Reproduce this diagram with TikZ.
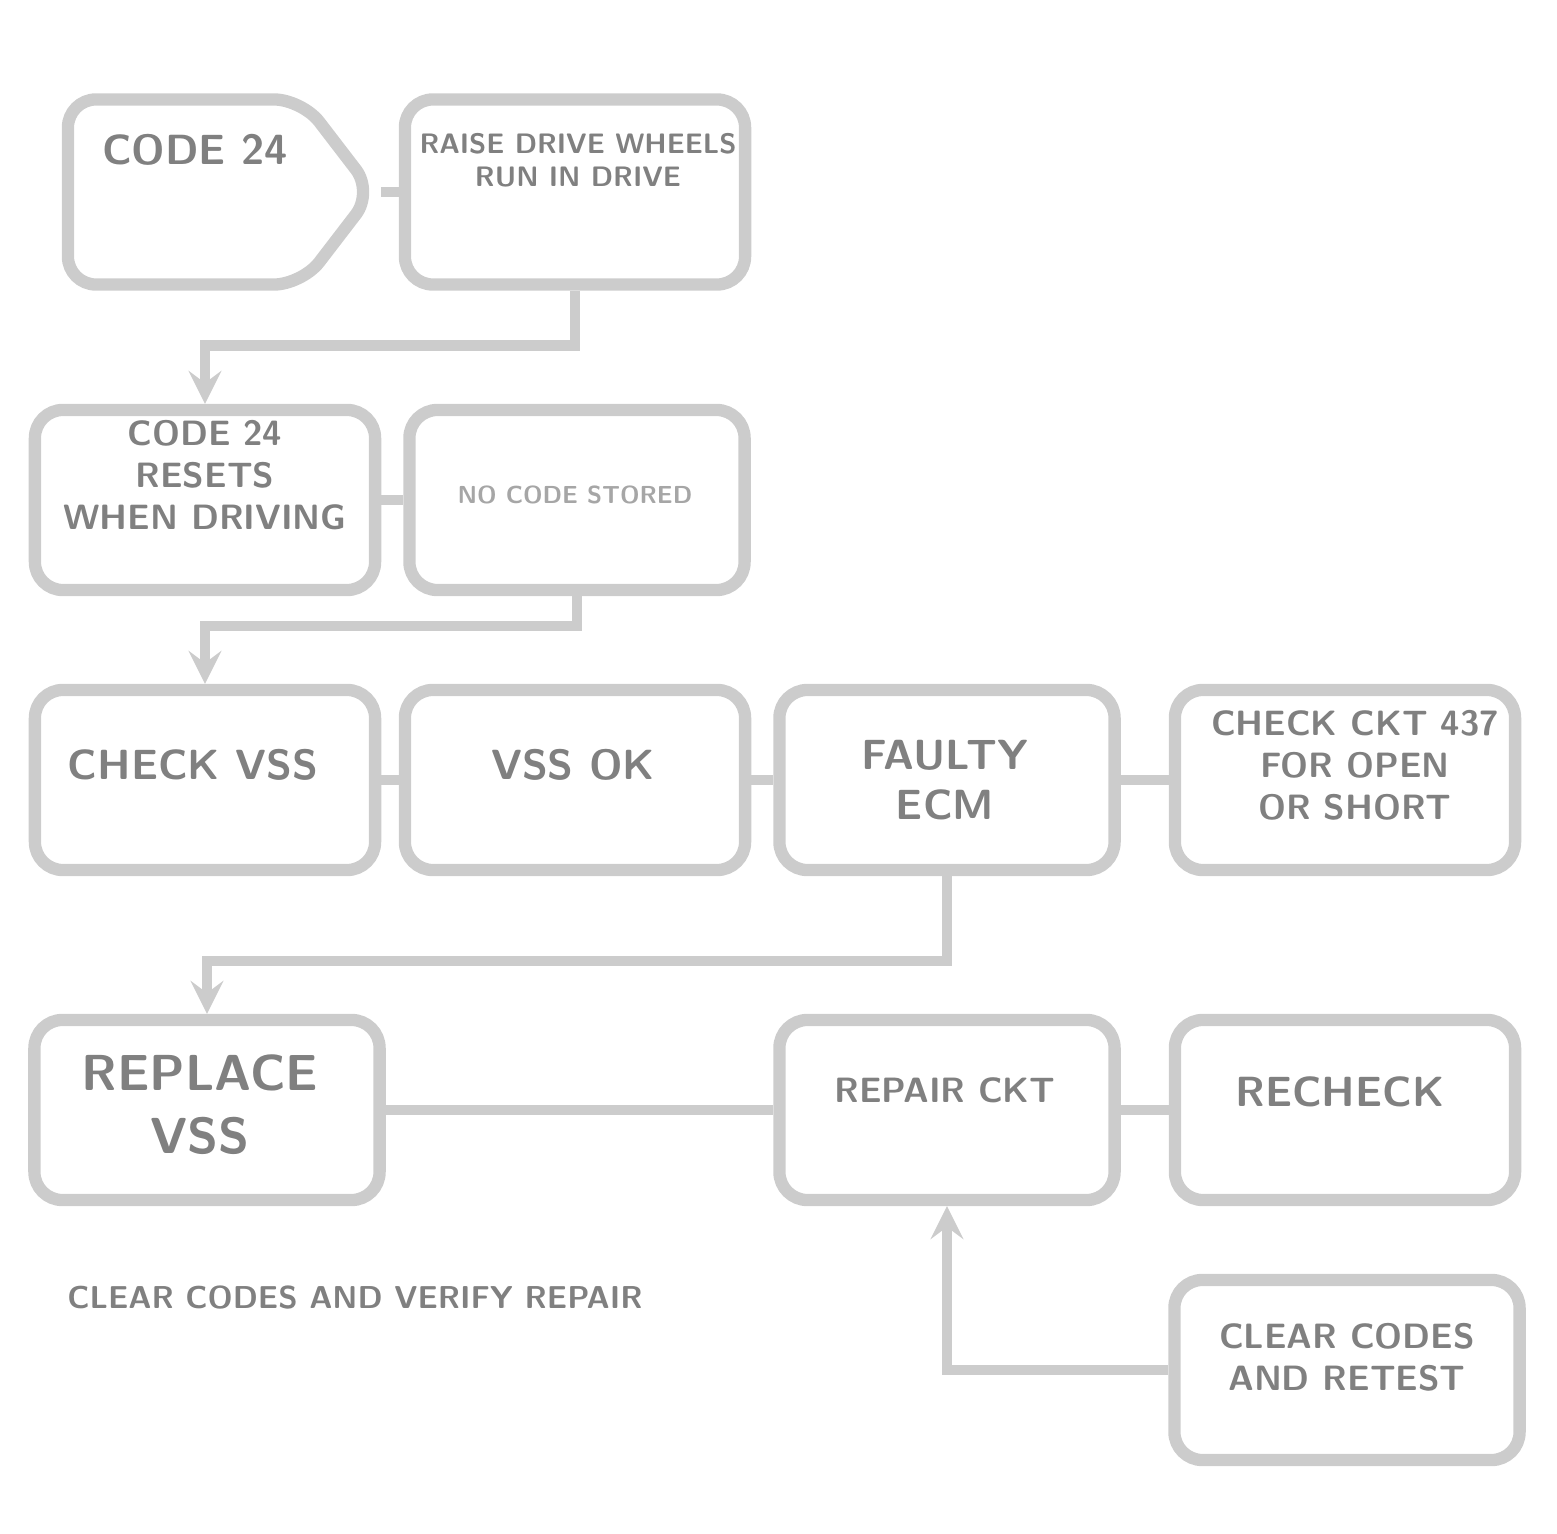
\documentclass[tikz,border=0pt]{standalone}
\usepackage{amsmath}
\usepackage{tikz}
\usetikzlibrary{shapes.symbols}

\tikzset{
	box/.style={draw=black!20, line width=3.5pt, rounded corners=8pt,
		minimum width=3.4cm, minimum height=1.8cm, inner sep=0pt},
	txt/.style={text=black!50, font=\sffamily\bfseries\large, align=center},
	link/.style={draw=black!20, line width=3pt},
}

\begin{document}
\begin{tikzpicture}[x=0.01cm,y=-0.01cm]
	\useasboundingbox (0,0) rectangle (1557,1534);
	% first row
	\node[box, shape=signal, signal to=east, signal pointer angle=105,
		minimum width=3.05cm, minimum height=1.85cm] (a) at (185,192) {};
	\node[box, minimum height=1.85cm] (b) at (575,192) {};
	% second row
	\node[box] (c) at (205,500) {};
	\node[box, minimum width=3.35cm] (d) at (577,500) {};
	% third row
	\node[box] (e) at (205,780) {};
	\node[box] (f) at (575,780) {};
	\node[box, minimum width=3.35cm] (g) at (947,780) {};
	\node[box] (h) at (1345,780) {};
	% fourth row
	\node[box, minimum width=3.45cm] (i) at (207,1110) {};
	\node[box, minimum width=3.35cm] (j) at (947,1110) {};
	\node[box] (k) at (1345,1110) {};
	\node[box, minimum width=3.45cm] (l) at (1347,1370) {};

	% texts
	\node[txt] (a-t) at (195,150) {CODE 24};
	\node[txt, font=\sffamily\bfseries\footnotesize] (b-t) at (578,160) {RAISE DRIVE WHEELS\\RUN IN DRIVE};
	\node[txt, font=\sffamily\bfseries\normalsize] (c-t) at (205,475) {CODE 24\\RESETS\\WHEN DRIVING};
	\node[txt, text=black!35, font=\sffamily\bfseries\scriptsize] (d-t) at (575,495) {NO CODE STORED};
	\node[txt] (e-t) at (193,765) {CHECK VSS};
	\node[txt] (f-t) at (573,765) {VSS OK};
	\node[txt] (g-t) at (945,780) {FAULTY\\ECM};
	\node[txt, font=\sffamily\bfseries\normalsize] (h-t) at (1355,765) {CHECK CKT 437\\FOR OPEN\\OR SHORT};
	\node[txt, font=\sffamily\bfseries\Large] (i-t) at (200,1105) {REPLACE\\VSS};
	\node[txt, font=\sffamily\bfseries\normalsize] (j-t) at (945,1090) {REPAIR CKT};
	\node[txt] (k-t) at (1340,1092) {RECHECK};
	\node[txt, font=\sffamily\bfseries\normalsize] (l-t) at (1347,1357) {CLEAR CODES\\AND RETEST};
	\node[txt, font=\sffamily\bfseries\fontsize{9}{11}\selectfont] (note) at (355,1298) {CLEAR CODES AND VERIFY REPAIR};

	% connectors
	\draw[link] (a.east) -- (b.west);
	\draw[link, ->, >=stealth] (b.south) -- ++(0,55) -| (c.north);
	\draw[link] (c.east) -- (d.west);
	\draw[link, ->, >=stealth] (d.south) -- ++(0,30) -| (e.north);
	\draw[link] (e.east) -- (f.west);
	\draw[link] (f.east) -- (g.west);
	\draw[link] (g.east) -- (h.west);
	\draw[link, ->, >=stealth] (g.south) -- ++(0,85) -| (i.north);
	\draw[link] (i.east) -- (j.west);
	\draw[link] (j.east) -- (k.west);
	\draw[link, ->, >=stealth] (l.west) -| (j.south);
\end{tikzpicture}
\end{document}
